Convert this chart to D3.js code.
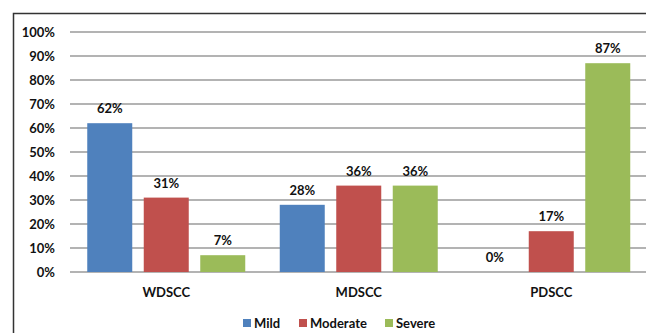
<!DOCTYPE html>
<html>
<head>
<meta charset="utf-8">
<script src="https://cdn.jsdelivr.net/npm/d3@7"></script>
<style>
  html, body { margin: 0; padding: 0; background: #fff; }
  svg text { font-family: Lato, "Open Sans", sans-serif; font-weight: 700; fill: #111; }
</style>
</head>
<body>
<svg id="chart" width="646" height="333"></svg>
<script>
// Grade categories and the share of each severity level
const categories = ["WDSCC", "MDSCC", "PDSCC"];
const seriesNames = ["Mild", "Moderate", "Severe"];
const mild = [62, 28, 0];
const moderate = [31, 36, 17];
const severe = [7, 36, 87];
const tickValues = [0, 10, 20, 30, 40, 50, 60, 70, 80, 90, 100];
const colors = ["#4F81BD", "#C0504D", "#9BBB59"];

const seriesValues = [mild, moderate, severe];
const rows = categories.map((c, i) => ({
  category: c,
  values: seriesNames.map((s, j) => ({ series: s, value: seriesValues[j][i] }))
}));

const svg = d3.select("#chart");

// outer frame (left and top edges visible)
svg.append("path")
  .attr("d", "M13.5,333 L13.5,13.5 L646,13.5")
  .attr("fill", "none")
  .attr("stroke", "#333")
  .attr("stroke-width", 1.5);

const plot = { left: 70, right: 647.5, top: 32, bottom: 272 };

const y = d3.scaleLinear().domain([0, 100]).range([plot.bottom, plot.top]);
const x0 = d3.scaleBand().domain(categories).range([plot.left, plot.right]).padding(0);
const outer = 17.25;
const x1 = d3.scaleBand().domain(seriesNames)
  .range([outer, x0.bandwidth() - outer])
  .paddingInner(0.2035).paddingOuter(0);
const color = d3.scaleOrdinal().domain(seriesNames).range(colors);

// gridlines
svg.append("g").selectAll("line")
  .data(tickValues)
  .join("line")
  .attr("x1", plot.left).attr("x2", 646)
  .attr("y1", d => y(d)).attr("y2", d => y(d))
  .attr("stroke", "#9a9a9a")
  .attr("stroke-width", 1.5);

// y axis labels
const yAxis = d3.axisLeft(y).tickValues(tickValues).tickFormat(d => d + "%").tickSize(0).tickPadding(15);
const yg = svg.append("g").attr("transform", `translate(${plot.left},0)`).call(yAxis);
yg.select(".domain").remove();
yg.selectAll("text").style("font-size", "13px").attr("dy", "0.35em");

// bars
const groups = svg.append("g").selectAll("g")
  .data(rows)
  .join("g")
  .attr("transform", d => `translate(${x0(d.category)},0)`);

groups.selectAll("rect")
  .data(d => d.values.filter(v => v.value > 0))
  .join("rect")
  .attr("x", d => x1(d.series))
  .attr("y", d => y(d.value))
  .attr("width", x1.bandwidth())
  .attr("height", d => y(0) - y(d.value))
  .attr("fill", d => color(d.series));

// value labels
groups.selectAll("text.val")
  .data(d => d.values)
  .join("text")
  .attr("class", "val")
  .attr("x", d => x1(d.series) + x1.bandwidth() / 2)
  .attr("y", d => y(d.value) - 10)
  .attr("text-anchor", "middle")
  .style("font-size", "13px")
  .text(d => d.value + "%");

// category labels
svg.append("g").selectAll("text")
  .data(categories)
  .join("text")
  .attr("x", d => x0(d) + x0.bandwidth() / 2)
  .attr("y", 297)
  .attr("text-anchor", "middle")
  .style("font-size", "13px")
  .text(d => d);

// legend
const legendX = [243, 299, 385];
const legend = svg.append("g").selectAll("g")
  .data(seriesNames)
  .join("g")
  .attr("transform", (d, i) => `translate(${legendX[i]},0)`);
legend.append("rect")
  .attr("x", 0).attr("y", 319)
  .attr("width", 8).attr("height", 8)
  .attr("fill", d => color(d));
legend.append("text")
  .attr("x", 11).attr("y", 328)
  .style("font-size", "13px")
  .text(d => d);
</script>
</body>
</html>
